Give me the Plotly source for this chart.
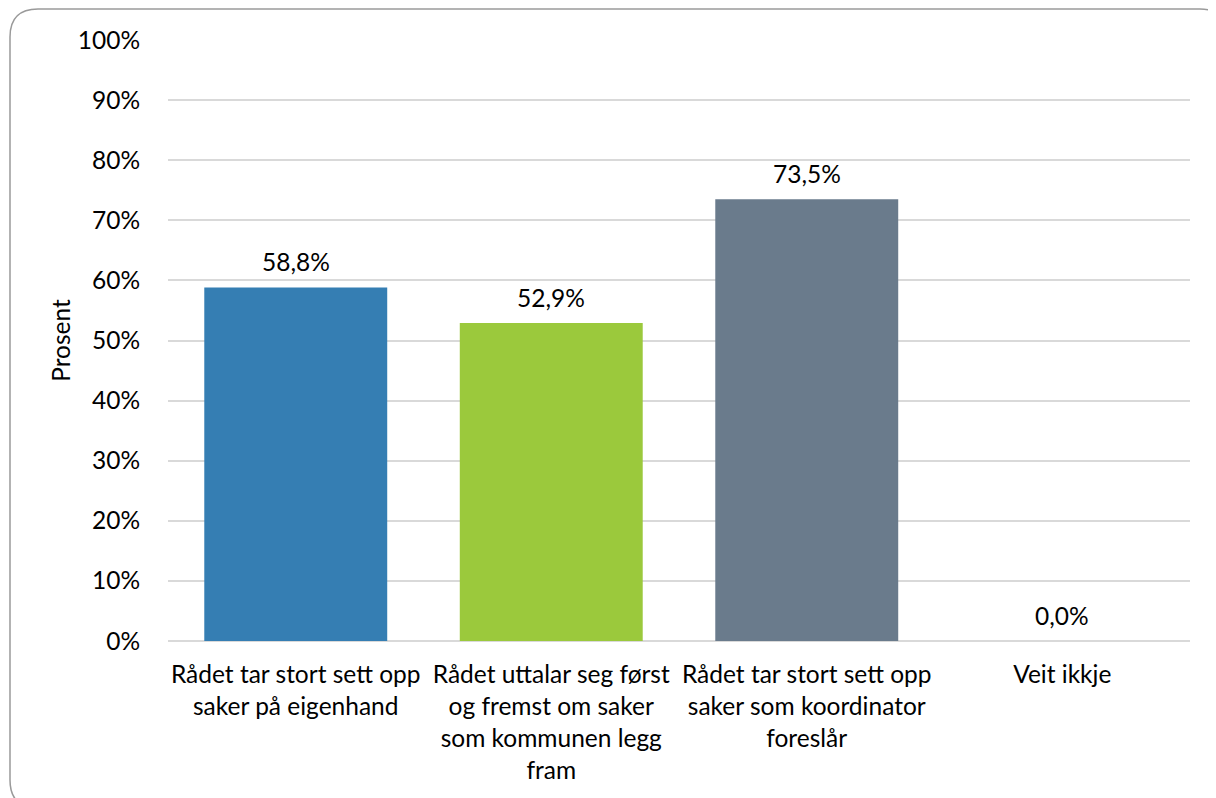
import plotly.graph_objects as go

categories = [
    "Rådet tar stort sett opp<br>saker på eigenhand",
    "Rådet uttalar seg først<br>og fremst om saker<br>som kommunen legg<br>fram",
    "Rådet tar stort sett opp<br>saker som koordinator<br>foreslår",
    "Veit ikkje",
]
values = [58.8, 52.9, 73.5, 0.0]
colors = ["#357EB3", "#9BC93C", "#6A7B8C", "#BBBBBB"]
y_ticks = [0, 10, 20, 30, 40, 50, 60, 70, 80, 90, 100]
y_ticklabels = [f"{t}%" for t in y_ticks]
y_title = "Prosent"

FONT = "Lato"
FS = 24.5

labels = [f"{v:.1f}".replace(".", ",") + "%" for v in values]

fig = go.Figure()
fig.add_trace(go.Bar(
    x=categories, y=values, marker=dict(color=colors, line=dict(width=0)),
    hoverinfo="skip", showlegend=False,
))

for c, v, t in zip(categories, values, labels):
    fig.add_annotation(x=c, y=v, text=t, showarrow=False, yanchor="middle",
                       yshift=26, font=dict(family=FONT, size=FS, color="#000000"))

# page body has an 8px margin; work in figure coordinates shifted by 8px
OFF = 8
W, H = 1216 - OFF, 798 - OFF
L, T = 168 - OFF, 40 - OFF
R = W - (1190 - OFF)
B = H - (641 - OFF)
pw, ph = W - L - R, H - T - B

def px_to_paper_x(px):
    return (px - OFF - L) / pw

def px_to_paper_y(py):
    return (H - B - (py - OFF)) / ph

# rounded border (given in page pixel coordinates)
x0, y0, x1, y1, r = 10, 9, 1228, 808, 28
def P(x, y):
    return f"{px_to_paper_x(x):.5f},{px_to_paper_y(y):.5f}"
path = (f"M {P(x0 + r, y0)} L {P(x1 - r, y0)} Q {P(x1, y0)} {P(x1, y0 + r)} "
        f"L {P(x1, y1 - r)} Q {P(x1, y1)} {P(x1 - r, y1)} "
        f"L {P(x0 + r, y1)} Q {P(x0, y1)} {P(x0, y1 - r)} "
        f"L {P(x0, y0 + r)} Q {P(x0, y0)} {P(x0 + r, y0)} Z")
fig.add_shape(type="path", path=path, xref="paper", yref="paper",
              line=dict(color="#9A9A9A", width=1.5), layer="below")

fig.update_layout(
    width=W, height=H,
    margin=dict(l=L, r=R, t=T, b=B, autoexpand=False),
    paper_bgcolor="white", plot_bgcolor="white",
    bargap=0.284,
    font=dict(family=FONT, size=FS, color="#000000"),
)
fig.update_xaxes(
    showgrid=False, showline=False, zeroline=False,
    ticks="outside", ticklen=0, ticklabelstandoff=12,
    tickfont=dict(family=FONT, size=FS, color="#000000"),
)
fig.update_yaxes(
    range=[0, 100], tickmode="array", tickvals=y_ticks, ticktext=y_ticklabels,
    showgrid=True, gridcolor="#D9D9D9", gridwidth=2,
    zeroline=True, zerolinecolor="#D9D9D9", zerolinewidth=2,
    showline=False, ticks="outside", ticklen=0, ticklabelstandoff=22,
    tickfont=dict(family=FONT, size=FS, color="#000000"),
    title=dict(text=y_title, standoff=0, font=dict(family=FONT, size=FS, color="#000000")),
)

fig.write_html("out.html")
